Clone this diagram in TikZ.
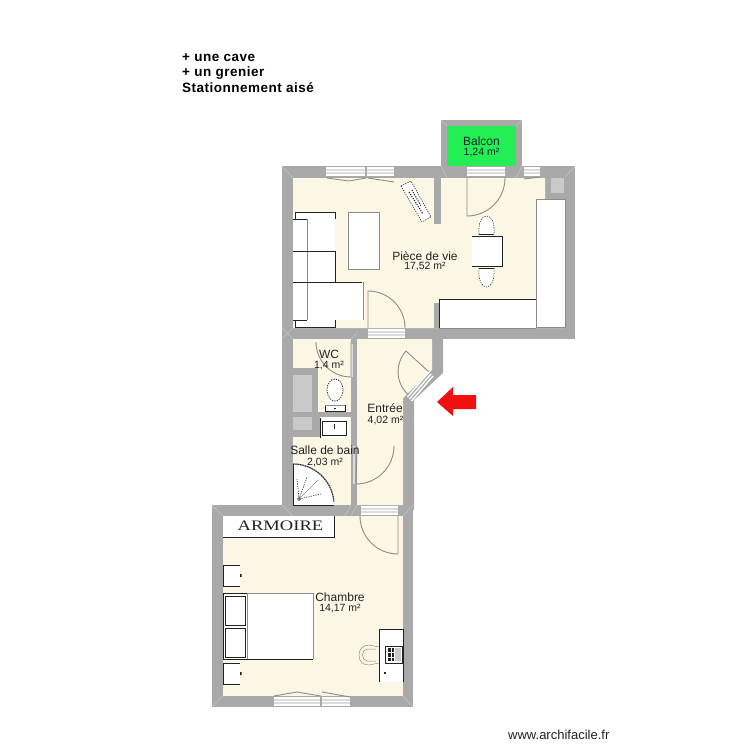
\documentclass[tikz,border=0pt]{standalone}
\usepackage{fontspec}
\setmainfont{Liberation Sans}
\newfontfamily\armfont{Liberation Serif}
\newfontfamily\headfont[LetterSpace=3.7]{Liberation Sans Bold}
\definecolor{wallc}{HTML}{A9A9A9}
\definecolor{roomc}{HTML}{FBF7E4}
\definecolor{boxc}{HTML}{C9C9C9}
\definecolor{greenc}{HTML}{22EE55}
\definecolor{redc}{HTML}{F01010}
\definecolor{linec}{HTML}{8C8C8C}
\definecolor{mitrec}{HTML}{C4C4C4}
\definecolor{inkc}{HTML}{222222}
\tikzset{
  wallfill/.style={fill=wallc,draw=none},
  roomfill/.style={fill=roomc,draw=none},
  lightbox/.style={fill=boxc,draw=none},
  leaf/.style={draw=linec,line width=0.9pt},
  mitre/.style={draw=mitrec,line width=0.6pt},
  stripe/.style={draw=white,line width=1.5pt},
  furn/.style={fill=white,draw=none},
  ink/.style={draw=inkc,line width=0.8pt},
  soft/.style={draw=linec,line width=0.8pt},
  dots/.style={draw=inkc,line width=0.6pt,dash pattern=on 1.2pt off 1.2pt},
  lab/.style={inner sep=0pt,font=\fontsize{12}{12}\selectfont,text=inkc},
  area/.style={inner sep=0pt,font=\fontsize{10.5}{11}\selectfont,text=inkc},
  head/.style={inner sep=0pt,anchor=west,font=\headfont\fontsize{13.5}{14}\selectfont,text=black}
}
\newcommand{\winh}[3]{%
  \fill[mitrec!60!white] (#1,#3) rectangle (#2,#3+9);
  \draw[stripe] (#1,#3+1) -- (#2,#3+1);
  \draw[stripe] (#1,#3+4.5) -- (#2,#3+4.5);
  \draw[stripe] (#1,#3+8) -- (#2,#3+8);}
\begin{document}
\begin{tikzpicture}[x=1pt,y=-1pt]
\useasboundingbox (0,0) rectangle (750,750);
\fill[white] (0,0) rectangle (750,750);
% ---- walls
\fill[wallfill] (282,166) rectangle (575,339);
\fill[wallfill] (441,120) rectangle (522,170);
\fill[wallfill] (282,335) -- (443,335) -- (443,373) -- (414,400) -- (414,510) -- (282,510) -- cycle;
\fill[wallfill] (212,505) rectangle (413,707);
% ---- rooms
\fill[greenc] (447,126) rectangle (516,166);
\fill[roomfill] (293,178) -- (545,178) -- (545,199) -- (565,199) -- (565,328) -- (293,328) -- cycle;
\fill[roomfill] (293,339) rectangle (351,368);
\fill[roomfill] (318,368) rectangle (351,412);
\fill[roomfill] (293,437) rectangle (351,505);
\fill[roomfill] (320,417) rectangle (351,437);
\fill[roomfill] (357,339) -- (432,339) -- (432,370) -- (403,398) -- (403,505) -- (357,505) -- cycle;
\fill[roomfill] (223,516) rectangle (403,696);
% ---- interior walls and boxes
\fill[wallfill] (434,178) rectangle (441,224);
\fill[wallfill] (434,303) rectangle (439,328);
\fill[lightbox] (551,178) rectangle (564,193);
\fill[lightbox] (293,375) rectangle (312,412);
\fill[lightbox] (293,417) rectangle (312,430);
% ---- mitres
\draw[mitre] (282,166) -- (293,178) (575,166) -- (565,177) (441,120) -- (447,126) (522,120) -- (516,126);
\draw[mitre] (441,166) -- (447,178) (522,166) -- (516,178) (282,339) -- (293,328) (293,339) -- (282,328);
\draw[mitre] (212,505) -- (223,516) (413,505) -- (403,516) (212,707) -- (223,696) (413,707) -- (403,696);
\draw[mitre] (282,505) -- (293,516) (351,505) -- (345,516) (351,339) -- (357,333) (357,505) -- (351,516);
% ---- windows and door sills
\winh{326}{365}{167}
\winh{367}{394}{167}
\winh{467}{505}{167}
\winh{524}{540}{167}
\winh{368}{405}{329}
\winh{361}{398}{506}
\winh{274}{320}{697}
\winh{322}{350}{697}
\draw[mitrec!60!white,line width=1.6pt] (354,446) -- (354,484) (352,344) -- (352,377);
% ---- window leaves
\draw[leaf] (327,178) -- (349,181) -- (366,178) (368,178) -- (394,182) (524,179) -- (540,177);
\draw[leaf] (274,696) -- (297,692) -- (321,696) (322,692) -- (350,697);
% ---- doors
\draw[leaf] (505,178) arc[start angle=0,end angle=90,radius=38] -- (467,178);
\draw[leaf] (405,328) arc[start angle=0,end angle=-90,radius=37] -- (368,328);
\draw[leaf] (316,342) arc[start angle=180,end angle=90,radius=35] -- (351,342);
\draw[leaf] (394,446) arc[start angle=0,end angle=90,radius=38] -- (357,446);
\draw[leaf] (360,516) arc[start angle=180,end angle=90,radius=38] -- (398,516);
\draw[leaf] (429,372) -- (406,351) arc[start angle=222,end angle=128,radius=31];
% entry door sill
\draw[white,line width=1.4pt] (429,372) -- (407.5,397) (431,374) -- (409.5,399) (433,376) -- (411.5,401);
% ---- living room furniture
\fill[furn] (293,212) -- (335,212) -- (335,282) -- (363,282) -- (363,320) -- (335,320) -- (335,327) -- (295,327) -- (293,327) -- cycle;
\draw[soft] (307,219) -- (307,320);
\draw[ink] (295,219) -- (295,212) -- (335,212) -- (335,219);
\draw[ink] (293,219) -- (307,219);
\draw[ink] (293,251) -- (335,251);
\draw[ink] (335,251) -- (335,282);
\draw[ink] (293,282) -- (362,282);
\draw[soft] (363,282) -- (363,320);
\draw[ink] (293,320) -- (307,320) (295,320) -- (295,327) -- (335,327) -- (335,320);
\draw[soft,fill=white,line width=1pt] (348,212) rectangle (379,269);
\draw[dots,fill=white] (401,186) -- (411,181) -- (431,217) -- (422,222) -- cycle;
\draw[dots,line width=1pt] (409,192) -- (423,214);
\draw[dots,line width=1pt] (412,190) -- (421,206);
\draw[ink,fill=white] (472,236) -- (502,236) -- (502,266) -- (472,266);
\draw[dots,fill=white] (479,234) .. controls (478,222) and (482,216) .. (486.5,216) .. controls (491,216) and (495,222) .. (494,234);
\draw[ink] (479,234) -- (494,234);
\draw[dots,fill=white] (479,268) .. controls (478,280) and (482,287) .. (486.5,287) .. controls (491,287) and (495,280) .. (494,268);
\draw[ink] (479,268) -- (494,268);
\fill[furn] (439,299) rectangle (536,328);
\draw[ink] (439,328) -- (439,299) -- (536,299);
\draw[soft] (439,328) -- (536,328);
\draw[soft,fill=white,line width=1pt] (536,199) rectangle (565,327);
% ---- WC
\fill[white] (325,400) rectangle (345,411);
\draw[dots,line width=0.8pt,fill=white] (335,390) ellipse [x radius=8,y radius=11];
\draw[ink,line width=0.6pt] (325,405) -- (325,411) -- (345,411) -- (345,405);
\draw[soft,line width=0.5pt] (325,405) -- (345,405);
\draw[ink,line width=0.5pt] (334,408) -- (336,408);
% ---- sink
\fill[white] (320,417) rectangle (349,438);
\draw[ink,line width=1pt] (320,418) -- (320,438);
\draw[ink,line width=0.7pt] (322,421) rectangle (346,435);
\draw[ink,line width=0.5pt] (334,424) -- (334,429);
% ---- shower
\fill[white] (293,505) -- (293,464) arc[start angle=-90,end angle=0,radius=41] -- cycle;
\draw[soft,line width=1.2pt] (293,464) arc[start angle=-90,end angle=-5,radius=41];
\draw[dots,line width=1pt] (293,464) arc[start angle=-90,end angle=-5,radius=41];
\draw[inkc,line width=0.9pt] (293,464) -- (293,505) -- (334,505);
\draw[dots] (299,499) -- (297,479) (299,499) -- (307,477) (299,499) -- (321,494);
\draw[soft,line width=0.5pt] (299,499) -- (318,480);
\draw[ink,line width=0.5pt] (299,499) circle (1.5);
% ---- bedroom furniture
\fill[white] (223,516) rectangle (334,537);
\draw[ink] (223,537) -- (334,537) -- (334,516);
\node[inner sep=0pt,text=inkc] (armoire) at (280.5,526) {\armfont\fontsize{14.5}{15}\selectfont\scalebox{1.28}[1]{ARMOIRE}};
\fill[white] (223,565) rectangle (240,586);
\draw[ink] (240,565) -- (223,565) -- (223,586) -- (240,586);
\fill[white] (223,663) rectangle (240,684);
\draw[ink] (240,663) -- (223,663) -- (223,684) -- (240,684);
\fill[inkc] (240,574) rectangle (241.5,577) (240,672) rectangle (241.5,675);
\fill[white] (223,593) rectangle (313,659);
\draw[ink] (223,593) -- (247,593) (223,593) -- (223,659) -- (313,659);
\draw[soft,line width=0.5pt] (247,593) -- (313,593) -- (313,659);
\draw[soft] (247,593) -- (247,659);
\draw[ink] (225,596) rectangle (245,625);
\draw[ink] (225,628) rectangle (245,657);
\fill[white] (379,629) rectangle (403,682);
\draw[ink] (379,682) -- (379,629) -- (403,629) -- (403,682);
\draw[soft,line width=0.5pt] (379,647) -- (369,645) .. controls (362,645) and (359,650) .. (359,655) .. controls (359,661) and (362,665) .. (369,665) -- (379,663);
\draw[soft,line width=0.5pt] (376,649) -- (367,649) .. controls (361,650) and (361,660) .. (367,661) -- (376,661);
\draw[ink,line width=0.6pt] (385,646) rectangle (402,663);
\fill[inkc] (388,648) rectangle (394,661);
\draw[white,line width=0.6pt] (388,652) -- (394,652) (388,657) -- (394,657) (391,648) -- (391,661);
\fill[boxc] (395,648) rectangle (401,661);
\fill[inkc] (384,672) rectangle (386,674);
% ---- arrow
\fill[redc] (437,402) -- (453,387) -- (453,395) -- (476,395) -- (476,409) -- (453,409) -- (453,416) -- cycle;
% ---- labels
\node[lab] (balcon) at (481.5,141) {Balcon};
\node[area] (balconm) at (481.5,153) {1,24 m²};
\node[lab] (piece) at (425,256) {Pièce de vie};
\node[area] (piecem) at (425,267) {17,52 m²};
\node[lab] (wc) at (329,354) {WC};
\node[area] (wcm) at (329,366) {1,4 m²};
\node[lab] (entree) at (385,408) {Entrée};
\node[area] (entreem) at (385.5,420) {4,02 m²};
\node[lab] (sdb) at (325,450) {Salle de bain};
\node[area] (sdbm) at (325,462) {2,03 m²};
\node[lab] (chambre) at (340,597) {Chambre};
\node[area] (chambrem) at (340,609) {14,17 m²};
\node[head] (t1) at (182,58) {+ une cave};
\node[head] (t2) at (182,73) {+ un grenier};
\node[head] (t3) at (182,87.5) {Stationnement aisé};
\node[inner sep=0pt,anchor=west,font=\fontsize{13}{13}\selectfont,text=inkc] (www) at (508,735) {www.archifacile.fr};
\end{tikzpicture}
\end{document}
